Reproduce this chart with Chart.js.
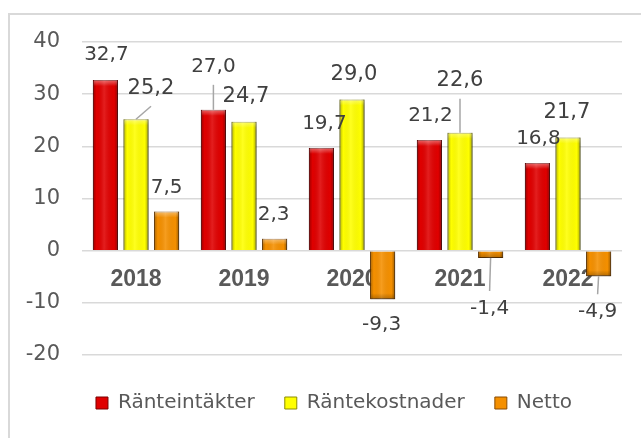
<!DOCTYPE html>
<html>
<head>
<meta charset="utf-8">
<script src="https://cdn.jsdelivr.net/npm/chart.js@4.4.1/dist/chart.umd.min.js"></script>
<style>
  html, body { margin: 0; padding: 0; background: #fff; }
  canvas { display: block; }
</style>
</head>
<body>
<canvas id="rateChart" width="641" height="438"></canvas>
<script>
const years = ['2018', '2019', '2020', '2021', '2022'];
const intakter = [32.7, 27.0, 19.7, 21.2, 16.8];
const kostnader = [25.2, 24.7, 29.0, 22.6, 21.7];
const netto = [7.5, 2.3, -9.3, -1.4, -4.9];
const yTicks = [-20, -10, 0, 10, 20, 30, 40];

// label nudges [dx, dy] in px from the end of each bar
const labelShift = [
    [[1, -25], [0, -43], [3, -24], [1, -24], [1, -24]],
    [[15, -31], [2, -25], [2, -25], [0, -52], [-1, -25]],
    [[0, -24], [-1, -24], [-1, 26], [-1, 51], [-1, 36]]
];
const leaders = ['0-1', '1-0', '1-3', '2-3', '2-4'];
const labelSize = [20, 21, 20];

const fmt = v => v.toFixed(1).replace('.', ',');

const frame = {
    id: 'frame',
    beforeDraw(chart) {
        const c = chart.ctx;
        c.save();
        c.strokeStyle = '#d9d9d9';
        c.lineWidth = 2;
        c.strokeRect(9, 14, 700, 500);
        c.restore();
    }
};

// legend sits a bit right of the canvas centre in the original
const legendShift = {
    id: 'legendShift',
    afterLayout(chart) {
        chart.legend.left += 13;
        chart.legend.right += 13;
    }
};

const bevel = {
    id: 'bevel',
    beforeDatasetsDraw(chart) {
        const c = chart.ctx;
        c.save();
        c.shadowColor = 'rgba(0,0,0,0.35)';
        c.shadowBlur = 5;
        c.shadowOffsetX = 1;
        c.shadowOffsetY = 3;
    },
    afterDatasetsDraw(chart) {
        const c = chart.ctx;
        c.restore();

        // shading on top of the flat bars
        chart.data.datasets.forEach((ds, i) => {
            chart.getDatasetMeta(i).data.forEach(bar => {
                const l = bar.x - bar.width / 2, r = bar.x + bar.width / 2;
                const top = Math.min(bar.y, bar.base), bot = Math.max(bar.y, bar.base);
                const g = c.createLinearGradient(l, 0, r, 0);
                g.addColorStop(0, 'rgba(0,0,0,0.3)');
                g.addColorStop(0.15, 'rgba(0,0,0,0)');
                g.addColorStop(0.45, 'rgba(255,255,255,0.12)');
                g.addColorStop(0.85, 'rgba(0,0,0,0)');
                g.addColorStop(1, 'rgba(0,0,0,0.35)');
                c.fillStyle = g;
                c.fillRect(l, top, r - l, bot - top);

                const capH = Math.min(6, bot - top);
                const y0 = bar.y < bar.base ? top : bot - capH;
                const cg = c.createLinearGradient(0, y0, 0, y0 + capH);
                if (bar.y < bar.base) {
                    cg.addColorStop(0, 'rgba(255,255,255,0.4)');
                    cg.addColorStop(1, 'rgba(255,255,255,0)');
                } else {
                    cg.addColorStop(0, 'rgba(0,0,0,0)');
                    cg.addColorStop(1, 'rgba(0,0,0,0.25)');
                }
                c.fillStyle = cg;
                c.fillRect(l + 1, y0, r - l - 2, capH);
            });
        });

        // value labels
        c.save();
        c.textAlign = 'center';
        c.textBaseline = 'middle';
        c.fillStyle = '#404040';
        c.strokeStyle = '#a6a6a6';
        c.lineWidth = 1.5;
        chart.data.datasets.forEach((ds, i) => {
            c.font = labelSize[i] + 'px "DejaVu Sans"';
            chart.getDatasetMeta(i).data.forEach((bar, j) => {
                const [dx, dy] = labelShift[i][j];
                const tx = bar.x + dx, ty = bar.y + dy;
                if (leaders.includes(i + '-' + j)) {
                    const dir = dy < 0 ? 1 : -1;
                    c.beginPath();
                    c.moveTo(bar.x, bar.y);
                    c.lineTo(tx, ty + dir * 18);
                    c.stroke();
                }
                c.fillText(fmt(ds.data[j]), tx, ty);
            });
        });
        c.restore();
    }
};

const ctx = document.getElementById('rateChart').getContext('2d');
new Chart(ctx, {
    type: 'bar',
    data: {
        labels: years,
        datasets: [
            { label: 'Ränteintäkter', data: intakter, backgroundColor: '#e00000', borderColor: '#7a0000', borderWidth: 1 },
            { label: 'Räntekostnader', data: kostnader, backgroundColor: '#ffff00', borderColor: '#8c8c00', borderWidth: 1 },
            { label: 'Netto', data: netto, backgroundColor: '#f59000', borderColor: '#8a4b00', borderWidth: 1 }
        ]
    },
    options: {
        responsive: false,
        animation: false,
        layout: { padding: { left: 20, right: 19, top: 42, bottom: 15 } },
        datasets: {
            bar: { categoryPercentage: 0.85, barPercentage: 0.82 }
        },
        plugins: {
            tooltip: { enabled: false },
            legend: {
                position: 'bottom',
                title: { display: true, text: '', padding: 0, font: { size: 8, lineHeight: 1 } },
                labels: {
                    boxWidth: 12,
                    boxHeight: 12,
                    padding: 30,
                    color: '#595959',
                    font: { family: 'DejaVu Sans', size: 20 }
                }
            }
        },
        scales: {
            y: {
                min: -20,
                max: 40,
                afterFit: s => { s.width = 62; },
                afterBuildTicks: s => { s.ticks = yTicks.map(v => ({ value: v })); },
                grid: { color: '#d9d9d9', lineWidth: 1.5, drawTicks: false },
                border: { display: false },
                ticks: { padding: 22, color: '#595959', font: { family: 'DejaVu Sans', size: 21 } }
            },
            x: {
                position: { y: 0 },
                z: 1,
                grid: { display: false, drawTicks: false },
                border: { display: false },
                ticks: { padding: 15, color: '#595959', font: { family: 'Liberation Sans', size: 23, weight: 'bold' } }
            }
        }
    },
    plugins: [frame, legendShift, bevel]
});
</script>
</body>
</html>
